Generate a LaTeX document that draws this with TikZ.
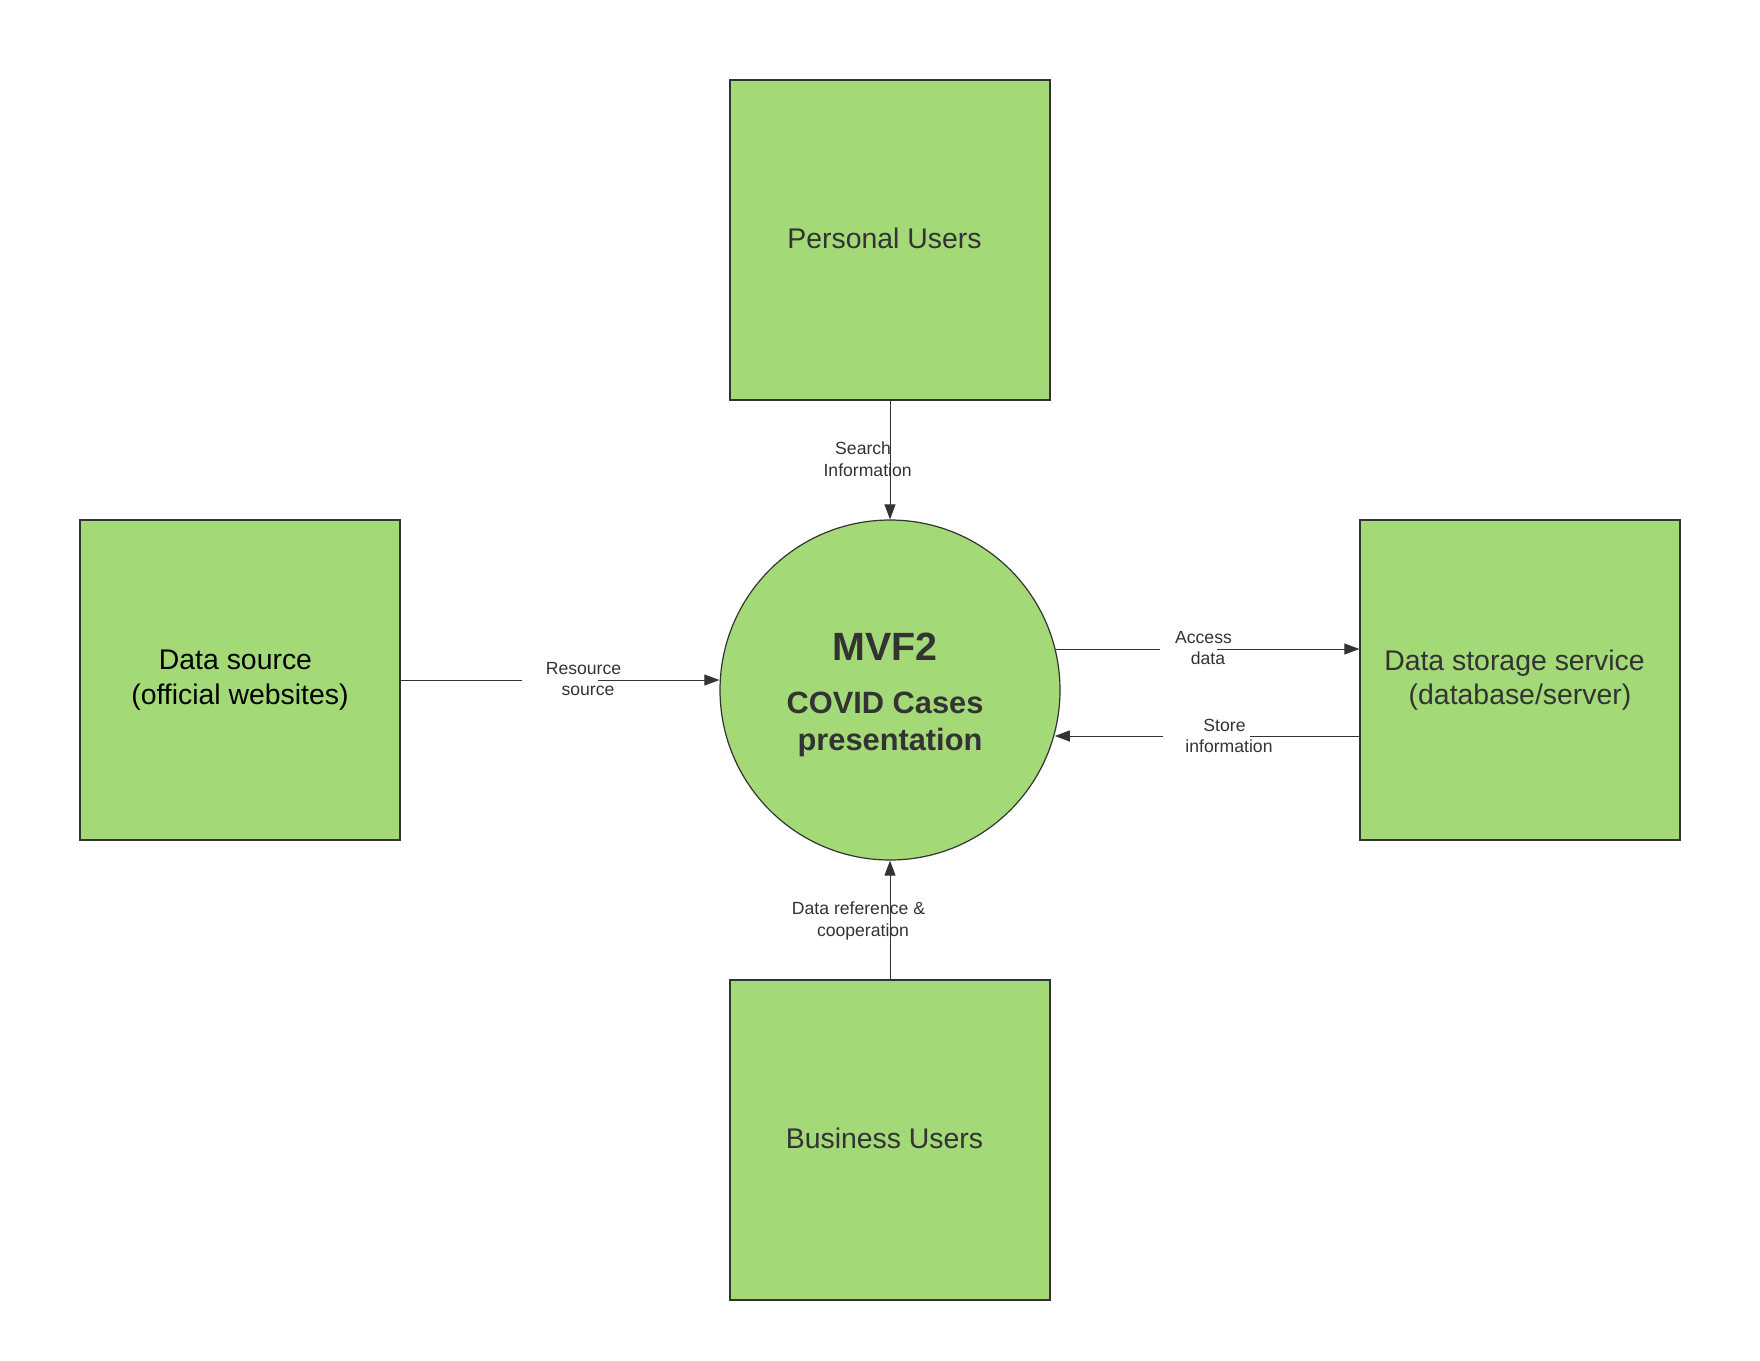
\documentclass[tikz,border=0pt]{standalone}
\usepackage{fontspec}
\setmainfont{Liberation Sans}
\usetikzlibrary{arrows.meta}
\definecolor{boxgreen}{HTML}{A3D977}
\definecolor{ink}{HTML}{333333}
\begin{document}
\begin{tikzpicture}[x=0.5pt,y=-0.5pt,
 entity/.style={draw=ink, line width=0.6pt, fill=boxgreen, minimum width=160pt, minimum height=160pt, inner sep=0pt, align=center, text=ink, font=\fontsize{14.2}{17.3}\selectfont},
 proc/.style={circle, draw=ink, line width=0.6pt, fill=boxgreen, minimum size=170pt, inner sep=0pt},
 title/.style={text=ink, anchor=base, inner sep=0pt, font=\fontsize{19.7}{24}\selectfont\bfseries},
 subtitle/.style={text=ink, anchor=base, inner sep=0pt, font=\fontsize{15.4}{18.5}\selectfont\bfseries},
 flow/.style={draw=ink, line width=0.5pt, -{Triangle[length=7.5pt,width=5.5pt]}},
 lbl/.style={text=ink, align=center, font=\fontsize{8.8}{10.8}\selectfont, inner sep=0pt},
]
\useasboundingbox (0,0) rectangle (1760,1360);

\node[entity] (ps) at (890,240) {\raisebox{2.2pt}{Personal Users}\hspace*{5.5pt}};
\node[entity] (bu) at (890,1140) {\raisebox{2.2pt}{Business Users}\hspace*{5.5pt}};
\node[entity, text=black] (ds) at (240,680) {Data source\hspace*{4.5pt}\\(official websites)};
\node[entity] (st) at (1520,680) {Data storage service\hspace*{5.5pt}\\(database/server)};
\node[proc] (c) at (890,690) {};

\node[title] (t1) at (885,660) {MVF2};
\node[subtitle] (t2) at (885,713) {COVID Cases};
\node[subtitle] (t3) at (890,750) {presentation};

% Personal users -> process
\draw[flow] (ps.south) -- (c.north);
\node[lbl] (l1) at (867.6,459) {Search\hspace*{4.5pt}\\Information};

% Business users -> process
\draw[flow] (bu.north) -- (c.south);
\node[lbl] (l2) at (863,921) {Data reference \&\hspace*{4.5pt}\\cooperation};

% Data source -> process (line broken round its label)
\coordinate (rsA) at (522,680);
\coordinate (rsB) at (598,680);
\draw[flow] (ds.east |- rsA) -- (rsA) (rsB) -- (c.west |- rsA);
\node[lbl] (l3) at (588,679) {Resource\hspace*{4.5pt}\\source};

% process -> storage
\coordinate (acA) at (1160,649);
\coordinate (acB) at (1217,649);
\draw[flow] (acA -| c.14) -- (acA) (acB) -- (st.west |- acB);
\node[lbl] (l4) at (1208,648) {Access\hspace*{4.5pt}\\data};

% storage -> process
\coordinate (soA) at (1250,736);
\coordinate (soB) at (1163,736);
\draw[flow] (st.west |- soA) -- (soA) (soB) -- (soB -| c.-15.7);
\node[lbl] (l5) at (1229,736) {Store\hspace*{4.5pt}\\information};

\end{tikzpicture}
\end{document}
